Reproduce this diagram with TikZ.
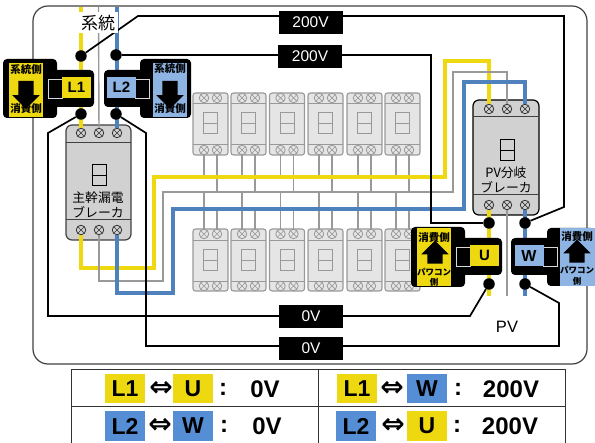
\documentclass[tikz,border=0pt]{standalone}
\usepackage{fontspec}
\setmainfont{Liberation Sans}
\newfontfamily\jpfont{Noto Sans CJK JP}
\newfontfamily\symfont{DejaVu Sans}
\usetikzlibrary{shapes.arrows}
\definecolor{wireyellow}{HTML}{EED80F}
\definecolor{wireblue}{HTML}{4F81BD}
\definecolor{chipblue}{HTML}{558ED5}
\definecolor{paleblue}{HTML}{8DB4E2}
\definecolor{wiregray}{HTML}{999999}
\newcommand{\fsz}[1]{\fontsize{#1}{#1}\selectfont}
\tikzset{
  frame/.style={draw=black!75,line width=1.2pt,rounded corners=15pt},
  mainbrk/.style={rectangle,draw=black!75,fill=black!18,line width=1.2pt,rounded corners=6pt,inner sep=0pt},
  subbrk/.style={rectangle,draw=wiregray,fill=black!10,line width=1.1pt,rounded corners=2.5pt,inner sep=0pt,minimum width=35pt,minimum height=62pt},
  screw/.style={circle,draw=#1,inner sep=0pt,minimum size=9.5pt,line width=0.8pt,
    path picture={\draw[#1,line width=0.7pt]
      (path picture bounding box.north west) -- (path picture bounding box.south east)
      (path picture bounding box.north east) -- (path picture bounding box.south west);}},
  toggle/.style={rectangle,draw=#1,line width=1pt,inner sep=0pt,minimum width=14pt,minimum height=21pt},
  ywire/.style={draw=wireyellow,line width=3.6pt},
  bwire/.style={draw=wireblue,line width=3.4pt},
  gwire/.style={draw=wiregray,line width=1.4pt},
  kwire/.style={draw=black,line width=1.7pt},
  dot/.style={circle,fill=black,inner sep=0pt,minimum size=11.5pt},
  volt/.style={rectangle,fill=black,text=white,inner sep=0pt,minimum width=64pt,minimum height=23pt,font=\fsz{15.5}},
  hull/.style={rectangle,fill=black,rounded corners=4pt,inner sep=0pt},
  panel/.style={rectangle,fill=#1,inner sep=0pt},
  clamp/.style={rectangle,draw=white!85!black,line width=0.8pt,inner sep=0pt,minimum width=14pt,minimum height=19pt},
  tag/.style={rectangle,fill=#1,inner sep=0pt,minimum width=29pt,minimum height=21pt,font=\fsz{15}\bfseries},
  flow/.style={single arrow,fill=black,inner sep=0pt,text width=15pt,text height=15pt,text depth=0pt,minimum height=#1,minimum width=27pt,
    single arrow head extend=6pt,single arrow head indent=0pt},
  sidetxt/.style={inner sep=0pt,font=\jpfont\fsz{10.5}\bfseries},
  brktxt/.style={inner sep=0pt,font=\jpfont\fsz{12.8}},
  chip/.style={rectangle,fill=#1,inner sep=0pt,minimum width=40pt,minimum height=29.5pt,font=\fsz{23}\bfseries},
  rel/.style={inner sep=0pt,font=\symfont\fsz{28}\bfseries},
  val/.style={inner sep=0pt,font=\fsz{24}\bfseries}
}
\begin{document}
\begin{tikzpicture}[x=1pt,y=-1pt]
\useasboundingbox (0,0) rectangle (595,443);
\draw[frame] (33,6) rectangle (587,364);
\coordinate (YB) at (0,177);
\coordinate (GB) at (0,192);
\coordinate (BB) at (0,209);
\foreach \n/\x in {1/210.5,2/248.5,3/287,4/325.5,5/364.5,6/402.5} {
  \node[subbrk] (A\n) at (\x,124) {};
  \node[subbrk] (B\n) at (\x,260) {};
  \draw[draw=wiregray,line width=0.9pt] (\x-17.5,103) -- (\x+17.5,103) (\x-17.5,144) -- (\x+17.5,144);
  \draw[draw=wiregray,line width=0.9pt] (\x-17.5,240) -- (\x+17.5,240) (\x-17.5,281) -- (\x+17.5,281);
  \node[toggle=wiregray] (AS\n) at (\x,123.5) {};
  \draw[draw=wiregray,line width=0.9pt] (AS\n.west) -- (AS\n.east);
  \node[toggle=wiregray] (BS\n) at (\x,260.5) {};
  \draw[draw=wiregray,line width=0.9pt] (BS\n.west) -- (BS\n.east);
  \node[screw=wiregray] (Atl\n) at (\x-6.5,98) {};
  \node[screw=wiregray] (Atr\n) at (\x+6.5,98) {};
  \node[screw=wiregray] (Abl\n) at (\x-6.5,150) {};
  \node[screw=wiregray] (Abr\n) at (\x+6.5,150) {};
  \node[screw=wiregray] (Btl\n) at (\x-6.5,234) {};
  \node[screw=wiregray] (Btr\n) at (\x+6.5,234) {};
  \node[screw=wiregray] (Bbl\n) at (\x-6.5,286) {};
  \node[screw=wiregray] (Bbr\n) at (\x+6.5,286) {};
  \draw[gwire] (Abl\n) -- (Abl\n |- YB);
  \draw[gwire] (Abr\n) -- (Abr\n |- GB);
  \draw[gwire] (Btl\n) -- (Btl\n |- GB);
  \draw[gwire] (Btr\n) -- (Btr\n |- BB);
}
\node[mainbrk,minimum width=65pt,minimum height=115pt] (MB) at (98.5,182.5) {};
\draw[draw=black!75,line width=1pt] (66,143) -- (131,143) (66,220) -- (131,220);
\node[toggle=black] (MS) at (99,175.5) {};
\draw[line width=0.9pt] (MS.west) -- (MS.east);
\node[brktxt] (MT1) at (98,198) {主幹漏電};
\node[brktxt] (MT2) at (98,212) {ブレーカ};
\node[screw=black!80] (M1) at (81,133) {};
\node[screw=black!80] (M2) at (99,133) {};
\node[screw=black!80] (M3) at (117,133) {};
\node[screw=black!80] (M4) at (81,230) {};
\node[screw=black!80] (M5) at (99,230) {};
\node[screw=black!80] (M6) at (117,230) {};
\node[mainbrk,draw=black,minimum width=66pt,minimum height=115pt] (PB) at (506,157.5) {};
\draw[draw=black!75,line width=1pt] (473,117) -- (539,117) (473,195) -- (539,195);
\node[toggle=black] (PS) at (507,150.5) {};
\draw[line width=0.9pt] (PS.west) -- (PS.east);
\node[brktxt] (PT1) at (506,173) {PV分岐};
\node[brktxt] (PT2) at (506,187) {ブレーカ};
\node[screw=black!80] (P1) at (489,109) {};
\node[screw=black!80] (P2) at (507,109) {};
\node[screw=black!80] (P3) at (525,109) {};
\node[screw=black!80] (P4) at (489,205) {};
\node[screw=black!80] (P5) at (507,205) {};
\node[screw=black!80] (P6) at (525,205) {};
\coordinate (Y0) at (81,7);
\coordinate (G0) at (98.5,7);
\coordinate (K0) at (117,7);
\coordinate (Y9) at (489,296);
\coordinate (G9) at (507,296);
\coordinate (K9) at (525,296);
\draw[ywire] (Y0) -- (M1);
\draw[gwire] (G0) -- (M2);
\draw[bwire] (K0) -- (M3);
\draw[ywire] (P4) -- (Y9);
\draw[gwire] (P5) -- (G9);
\draw[bwire] (P6) -- (K9);
\draw[ywire] (M4) -- (81,268) -- (154,268) -- (154,177) -- (445,177) -- (445,61) -- (489,61) -- (P1);
\draw[gwire] (M5) -- (99,281) -- (163,281) -- (163,192) -- (453,192) -- (453,72) -- (507,72) -- (P2);
\draw[bwire] (M6) -- (117,293) -- (173,293) -- (173,209) -- (464,209) -- (464,82) -- (525,82) -- (P3);
\node[dot] (DL1) at (81,56) {};
\node[dot] (DL2) at (116,55) {};
\node[dot] (EL1) at (81,114) {};
\node[dot] (EL2) at (116,114) {};
\node[dot] (DU) at (489,223) {};
\node[dot] (DW) at (525,223) {};
\node[dot] (EU) at (489,284) {};
\node[dot] (EW) at (525,284) {};
\draw[kwire] (DL1) -- (138,16) -- (564,16) -- (564,207) -- (DW);
\draw[kwire] (DL2) -- (431,55) -- (431,223) -- (DU);
\draw[kwire] (EL1) -- (48,133) -- (48,316) -- (470,316) -- (EU);
\draw[kwire] (EL2) -- (146,133) -- (146,346) -- (559,346) -- (559,303) -- (EW);
\node[volt] (V1) at (310.5,22.5) {200V};
\node[volt] (V2) at (310,56.5) {200V};
\node[volt] (V3) at (311,316.5) {0V};
\node[volt] (V4) at (311,348.5) {0V};
\node[fill=white,inner sep=0pt,minimum width=40pt,minimum height=21pt,font=\jpfont\fsz{17}] (SYS) at (98,23) {系統};
\node[font=\fsz{16.5},inner sep=0pt] (PV) at (507,327) {PV};
\node[hull,minimum width=54pt,minimum height=59pt] (HL1) at (30,88.5) {};
\node[hull,minimum width=44pt,minimum height=37pt] (BL1) at (72,88.5) {};
\node[panel=wireyellow,minimum width=34pt,minimum height=54pt] (AL1) at (26,90) {};
\node[clamp] (CL1) at (55,88.5) {};
\node[tag=wireyellow] (L1) at (76.5,87.5) {L1};
\node[sidetxt] (TL1a) at (26,70) {系統側};
\node[flow=28pt,shape border rotate=270] (WL1) at (26,91) {};
\node[sidetxt] (TL1b) at (26,109) {消費側};
\node[hull,minimum width=51pt,minimum height=59pt] (HL2) at (165.5,88.5) {};
\node[hull,minimum width=44pt,minimum height=37pt] (BL2) at (126,88.5) {};
\node[panel=paleblue,minimum width=34pt,minimum height=54pt] (AL2) at (170,90) {};
\node[clamp] (CL2) at (142,88.5) {};
\node[tag=paleblue] (L2) at (121.5,87.5) {L2};
\node[sidetxt] (TL2a) at (170,69) {系統側};
\node[flow=28pt,shape border rotate=270] (WL2) at (170,91) {};
\node[sidetxt] (TL2b) at (170,109) {消費側};
\node[hull,minimum width=54pt,minimum height=60pt] (HU) at (438,257) {};
\node[hull,minimum width=44pt,minimum height=37pt] (BU) at (480,256.5) {};
\node[panel=wireyellow,minimum width=34pt,minimum height=58pt] (AU) at (434,257) {};
\node[clamp] (CU) at (463,256.5) {};
\node[tag=wireyellow] (U) at (484.5,255.5) {U};
\node[sidetxt] (TU1) at (434,238) {消費側};
\node[flow=22pt,shape border rotate=90] (WU) at (435,256) {};
\node[sidetxt,font=\jpfont\fsz{8.5}\bfseries] (TU2) at (434,272) {パワコン};
\node[sidetxt,font=\jpfont\fsz{8.5}\bfseries] (TU3) at (434,282) {側};
\node[hull,minimum width=48pt,minimum height=58pt] (HW) at (571,257) {};
\node[hull,minimum width=44pt,minimum height=37pt] (BW) at (533,256.5) {};
\node[panel=paleblue,minimum width=35pt,minimum height=58pt] (AW) at (577.5,257) {};
\node[clamp] (CW) at (550,256.5) {};
\node[tag=paleblue,font=\fsz{16}\bfseries] (W) at (529,255.5) {W};
\node[sidetxt] (TW1) at (577,237) {消費側};
\node[flow=22pt,shape border rotate=90] (WW) at (577,255) {};
\node[sidetxt,font=\jpfont\fsz{8.5}\bfseries] (TW2) at (577,270) {パワコン};
\node[sidetxt,font=\jpfont\fsz{8.5}\bfseries] (TW3) at (577,281) {側};
\draw[black!80,line width=1pt] (71,443) -- (71,370) -- (565,370) -- (565,443);
\draw[black!80,line width=1pt] (71,407) -- (565,407);
\draw[black!80,line width=1pt] (318,370) -- (318,443);
\node[chip=wireyellow] (R1a) at (125,388.5) {L1};
\node[rel] (R1b) at (161,389) {⇔};
\node[chip=wireyellow] (R1c) at (193,388.5) {U};
\node[val] (R1d) at (223,389) {:};
\node[val] (R1e) at (265,389) {0V};
\node[chip=wireyellow] (R2a) at (357,388.5) {L1};
\node[rel] (R2b) at (392,389) {⇔};
\node[chip=chipblue] (R2c) at (427,388.5) {W};
\node[val] (R2d) at (458,389) {:};
\node[val] (R2e) at (511,389) {200V};
\node[chip=chipblue] (R3a) at (125,426) {L2};
\node[rel] (R3b) at (160,426) {⇔};
\node[chip=chipblue] (R3c) at (193,426) {W};
\node[val] (R3d) at (224,426) {:};
\node[val] (R3e) at (267,426) {0V};
\node[chip=chipblue] (R4a) at (356,426) {L2};
\node[rel] (R4b) at (393,426) {⇔};
\node[chip=wireyellow] (R4c) at (427,426) {U};
\node[val] (R4d) at (457,426) {:};
\node[val] (R4e) at (510,426) {200V};
\end{tikzpicture}
\end{document}
